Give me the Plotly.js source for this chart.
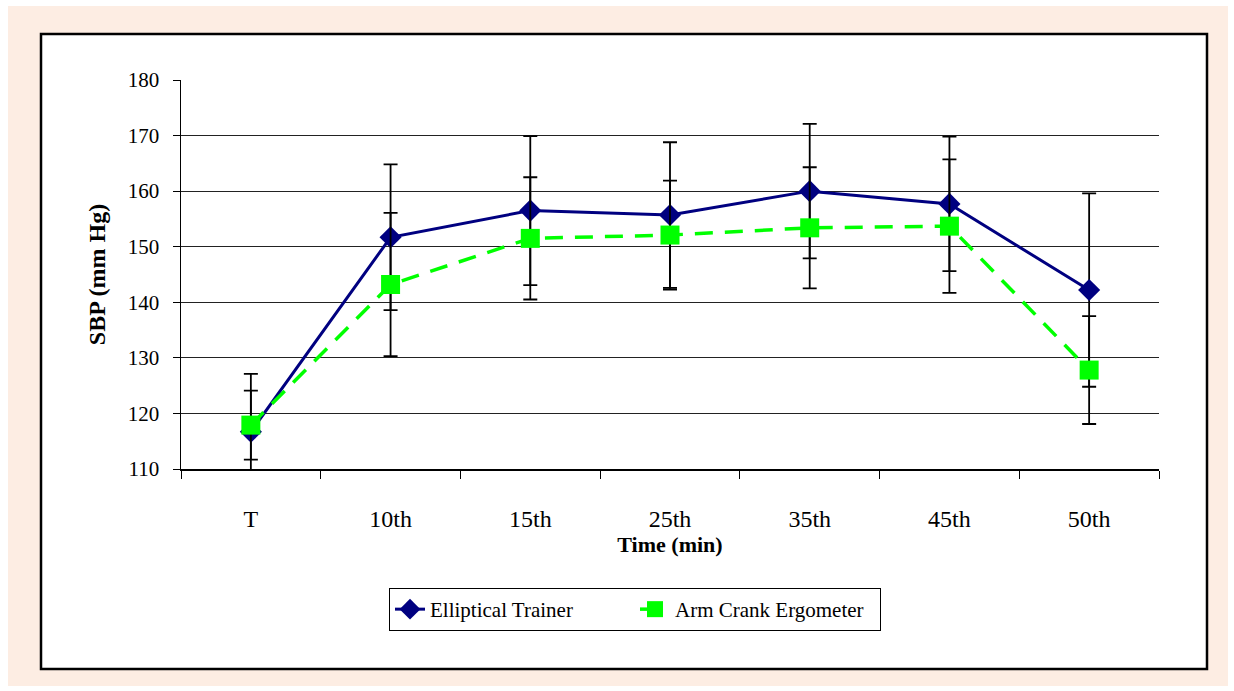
<!DOCTYPE html>
<html>
<head>
<meta charset="utf-8">
<script src="https://cdn.plot.ly/plotly-3.0.1.min.js"></script>
<style>html,body{margin:0;padding:0;background:#fff;}#chart{width:1234px;height:691px;}</style>
</head>
<body>
<div id="chart"></div>
<script>
const categories = ["T", "10th", "15th", "25th", "35th", "45th", "50th"];
const ellipticalMean = [116.7, 151.7, 156.5, 155.7, 160.0, 157.7, 142.2];
const ellipticalSD = [10.4, 13.1, 13.4, 13.1, 12.1, 12.1, 17.4];
const armCrankMean = [117.9, 143.2, 151.5, 152.1, 153.4, 153.7, 127.8];
const armCrankSD = [6.2, 12.9, 11.0, 9.8, 10.9, 12.0, 9.7];
const yTicks = [110, 120, 130, 140, 150, 160, 170, 180];

const W = 1234, H = 691;
const L = 181, R = 1159, T = 80, B = 469;
const px = x => (x - L) / (R - L);
const py = y => (B - y) / (B - T);
const serif = "Liberation Serif, Times New Roman, serif";

const traces = [
  {
    x: categories, y: ellipticalMean, name: "Elliptical Trainer",
    type: "scatter", mode: "lines+markers",
    line: {color: "#000080", width: 3},
    marker: {symbol: "diamond", size: 17, color: "#000080"},
    error_y: {type: "data", array: ellipticalSD, visible: true, color: "#000", thickness: 1.8, width: 7},
    cliponaxis: false
  },
  {
    x: categories, y: armCrankMean, name: "Arm Crank Ergometer",
    type: "scatter", mode: "lines+markers",
    line: {color: "#00FF00", width: 3.5, dash: "18px,12px"},
    marker: {symbol: "square", size: 19, color: "#00FF00"},
    error_y: {type: "data", array: armCrankSD, visible: true, color: "#000", thickness: 1.8, width: 7},
    cliponaxis: false
  }
];

const layout = {
  width: W, height: H,
  margin: {l: L, r: W - R, t: T, b: H - B},
  paper_bgcolor: "#fff",
  plot_bgcolor: "rgba(0,0,0,0)",
  font: {family: serif, color: "#000"},
  showlegend: true,
  legend: {
    orientation: "h",
    x: px(389), y: py(588), xanchor: "left", yanchor: "top",
    bordercolor: "#000", borderwidth: 1, bgcolor: "#fff",
    font: {family: serif, size: 21, color: "#000"},
    entrywidth: 200, entrywidthmode: "pixels",
    tracegroupgap: 10
  },
  xaxis: {
    type: "category", range: [-0.5, 6.5],
    showline: true, linecolor: "#000", linewidth: 1.5,
    ticks: "outside", ticklen: 8, tickcolor: "#000", tickson: "boundaries",
    showgrid: false, zeroline: false,
    tickfont: {family: serif, size: 24, color: "#000"},
    ticklabelstandoff: 28,
    title: {text: "<b>Time (min)</b>", font: {family: serif, size: 22, color: "#000"}, standoff: 2}
  },
  yaxis: {
    range: [110, 180], tickvals: yTicks,
    showline: true, linecolor: "#000", linewidth: 1.5,
    ticks: "outside", ticklen: 7, tickcolor: "#000",
    showgrid: true, gridcolor: "#222", gridwidth: 1, zeroline: false,
    tickfont: {family: serif, size: 21, color: "#000"},
    ticklabelstandoff: 9,
    title: {text: "<b>SBP (mm Hg)</b>", font: {family: serif, size: 24, color: "#000"}, standoff: 15}
  },
  shapes: [
    {type: "rect", xref: "paper", yref: "paper", layer: "below",
     x0: px(8), x1: px(1228), y0: py(6), y1: py(686),
     fillcolor: "#FDEDE3", line: {width: 0}},
    {type: "rect", xref: "paper", yref: "paper", layer: "below",
     x0: px(41), x1: px(1207), y0: py(34), y1: py(669),
     fillcolor: "#fff", line: {color: "#000", width: 2.5}}
  ]
};

Plotly.newPlot("chart", traces, layout, {displayModeBar: false, staticPlot: true});
</script>
</body>
</html>
